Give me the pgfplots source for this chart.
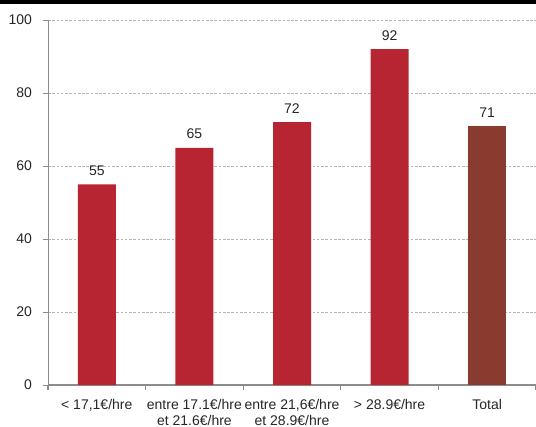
\documentclass[border=0pt]{standalone}
\usepackage{pgfplots}
\pgfplotsset{compat=1.18}
\usepackage{fontspec}
\setmainfont{Liberation Sans}
\definecolor{barred}{HTML}{B82532}
\definecolor{barbrown}{HTML}{8A3B30}
\definecolor{axisgray}{HTML}{8C8C8C}
\definecolor{gridgray}{HTML}{B4B4B4}
\definecolor{labelgray}{HTML}{262626}
\begin{document}
\begin{tikzpicture}
% page frame
\path[use as bounding box] (-36pt,-30.75pt) rectangle (366pt,288.75pt);
\begin{axis}[
  at={(0,0)}, anchor=south west,
  scale only axis,
  width=366pt, height=273.75pt,
  xmin=-0.5, xmax=4.5,
  ymin=0, ymax=100,
  ytick={0,20,40,60,80,100},
  xtick={0,1,2,3,4},
  xticklabels={{< 17,1€/hre},{entre 17.1€/hre\\et 21.6€/hre},{entre 21,6€/hre\\et 28.9€/hre},{> 28.9€/hre},{Total}},
  minor xtick={-0.5,0.5,1.5,2.5,3.5,4.5},
  x tick style={draw=none},
  minor x tick style={draw=axisgray, line width=0.8pt},
  minor tick length=4pt,
  y tick style={draw=axisgray, line width=0.6pt},
  major tick length=3.5pt,
  tick align=outside,
  xticklabel style={align=center, font=\fontsize{10.5}{12}\selectfont, text=labelgray, yshift=-4pt},
  yticklabel style={font=\fontsize{10.5}{12}\selectfont, text=labelgray, xshift=-5pt},
  /pgf/number format/assume math mode=true,
  axis x line*=bottom,
  axis y line*=left,
  x axis line style={draw=axisgray, line width=1pt, -},
  y axis line style={draw=axisgray, line width=0.6pt, -},
  ymajorgrids,
  major grid style={draw=gridgray, dash pattern=on 2pt off 1.2pt, line width=0.5pt},
  ybar, bar width=28.5pt, bar shift=0pt,
  nodes near coords,
  nodes near coords style={font=\fontsize{10.5}{12}\selectfont, text=labelgray, yshift=3pt},
  clip=false,
]
\addplot[fill=barred, draw=none] coordinates {(0,55) (1,65) (2,72) (3,92)};
\addplot[fill=barbrown, draw=none] coordinates {(4,71)};
\end{axis}
\fill[black] (-36pt,285.75pt) rectangle (366pt,288.75pt);
\end{tikzpicture}
\end{document}
